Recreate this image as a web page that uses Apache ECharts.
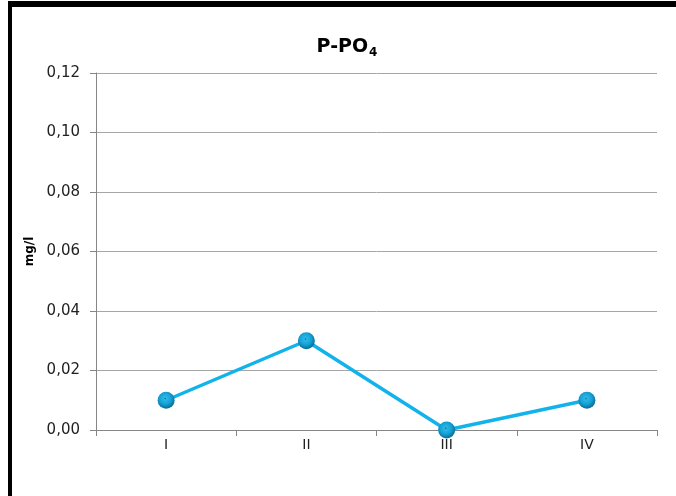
<!DOCTYPE html>
<html>
<head>
<meta charset="utf-8">
<script src="https://cdn.jsdelivr.net/npm/echarts@6/dist/echarts.min.js"></script>
<style>
html,body{margin:0;padding:0;background:#fff;}
#c{width:676px;height:496px;}
</style>
</head>
<body>
<div id="c"></div>
<script>
const categories = ['I', 'II', 'III', 'IV'];
const values = [0.01, 0.03, 0.00, 0.01];
const yMin = 0, yMax = 0.12, yStep = 0.02;

const chart = echarts.init(document.getElementById('c'), null, {renderer: 'canvas'});
const font = '"DejaVu Sans", "Liberation Sans", sans-serif';
chart.setOption({
  animation: false,
  backgroundColor: '#fff',
  title: {
    text: '{a|P-PO}{b|4}',
    left: 342, top: 30, textAlign: 'center',
    textStyle: {
      rich: {
        a: {fontFamily: font, fontSize: 19, fontWeight: 'bold', color: '#000', height: 22},
        b: {fontFamily: font, fontSize: 12, fontWeight: 'bold', color: '#000', padding: [12, 0, 0, 1]}
      }
    }
  },
  graphic: [
    {type: 'rect', shape: {x: 8, y: 1, width: 668, height: 6}, style: {fill: '#000'}},
    {type: 'rect', shape: {x: 8, y: 1, width: 4, height: 495}, style: {fill: '#000'}}
  ],
  grid: {left: 96, right: 19, top: 73, bottom: 66},
  xAxis: {
    type: 'category',
    data: categories,
    boundaryGap: true,
    axisLine: {lineStyle: {color: '#868686', width: 1}},
    axisTick: {show: true, length: 6, lineStyle: {color: '#868686'}},
    axisLabel: {fontFamily: font, fontSize: 14, color: '#222', margin: 8}
  },
  yAxis: {
    type: 'value',
    min: yMin, max: yMax, interval: yStep,
    name: 'mg/l',
    nameLocation: 'middle',
    nameGap: 59,
    nameRotate: 90,
    nameTextStyle: {fontFamily: font, fontSize: 12, fontWeight: 'bold', color: '#000'},
    axisLine: {show: true, lineStyle: {color: '#868686'}},
    axisTick: {show: true, length: 6, lineStyle: {color: '#868686'}},
    splitLine: {lineStyle: {color: '#a6a6a6', width: 1}},
    axisLabel: {
      fontFamily: font, fontSize: 15, color: '#222', margin: 16,
      formatter: v => v.toFixed(2).replace('.', ',')
    }
  },
  series: [{
    type: 'line',
    data: values,
    symbol: 'circle',
    symbolSize: 17,
    lineStyle: {color: '#12b2ea', width: 3.5},
    itemStyle: {
      color: new echarts.graphic.RadialGradient(0.45, 0.4, 0.6, [
        {offset: 0, color: '#0a5f84'},
        {offset: 0.12, color: '#2fb6e6'},
        {offset: 0.55, color: '#14a3d8'},
        {offset: 1, color: '#0a6a94'}
      ]),
      borderWidth: 0
    }
  }]
});
</script>
</body>
</html>
